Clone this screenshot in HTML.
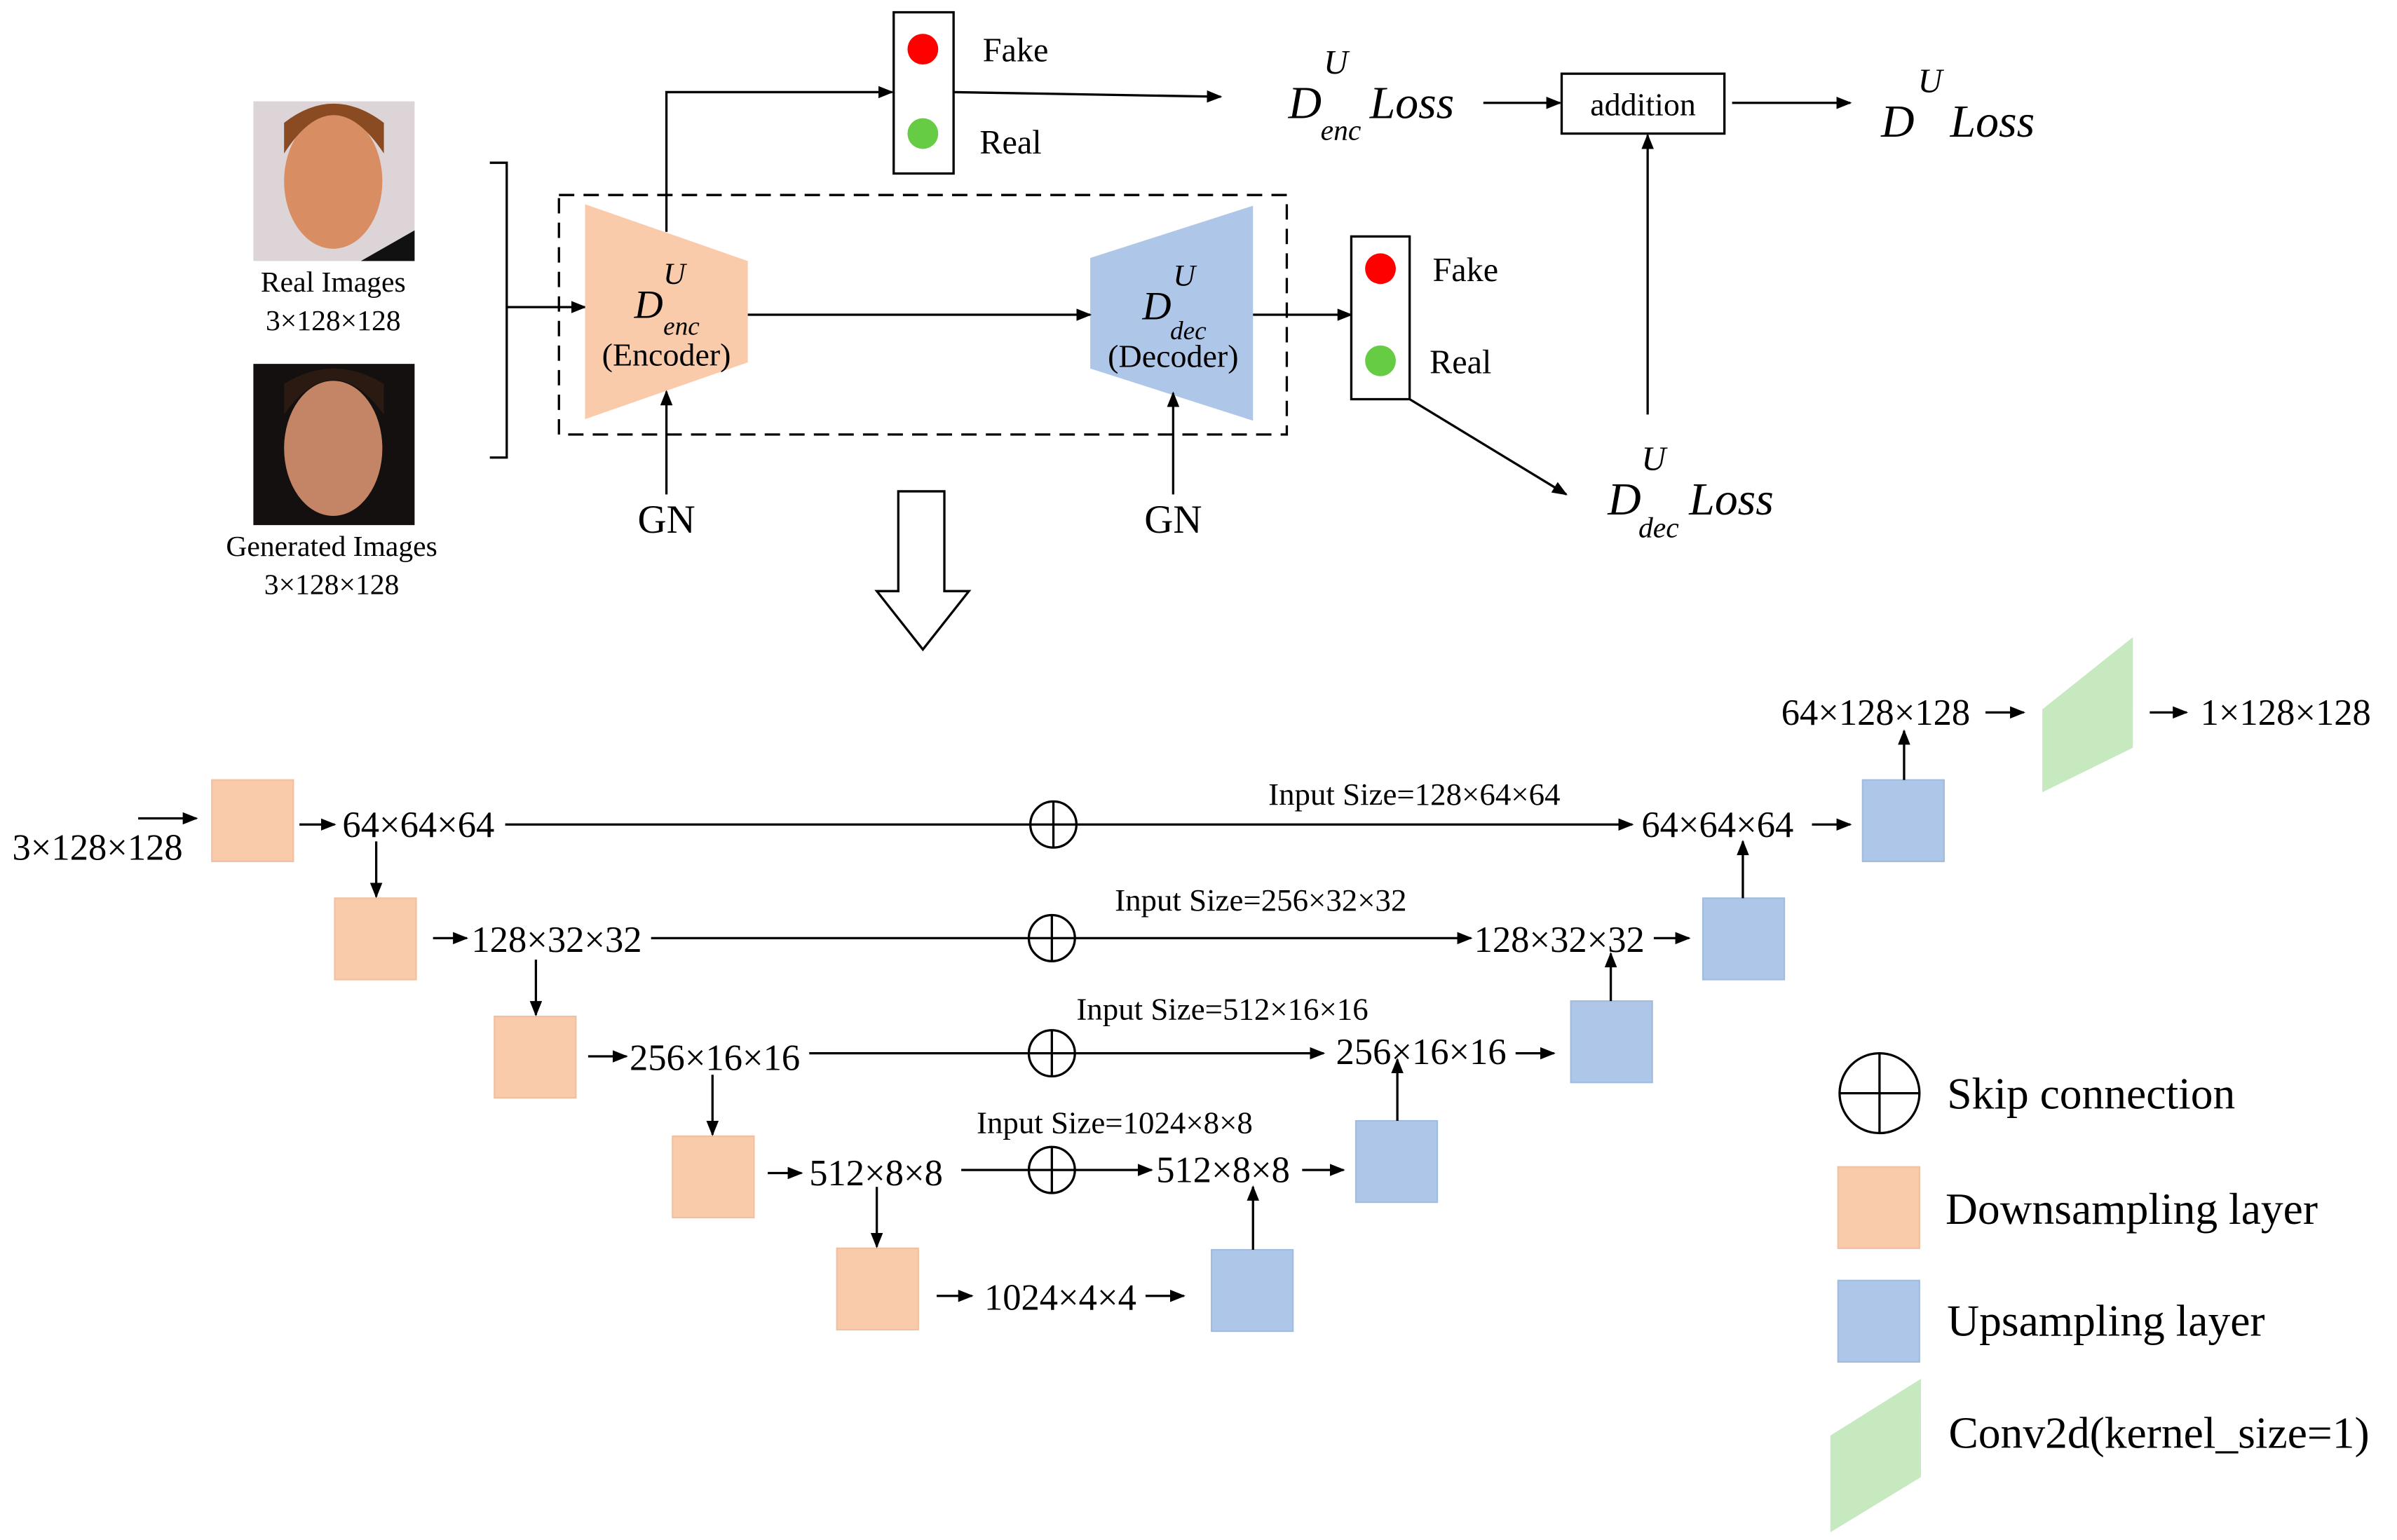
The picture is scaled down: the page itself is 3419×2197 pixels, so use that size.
<!DOCTYPE html>
<html><head><meta charset="utf-8"><style>
html,body{margin:0;padding:0;background:#fff;}
svg{display:block;}
text{font-family:"Liberation Serif",serif;fill:#000;}
.i{font-style:italic;}
</style></head><body>
<svg width="3419" height="2197" viewBox="0 0 1561 1003" preserveAspectRatio="none" xmlns="http://www.w3.org/2000/svg">
<defs>
<marker id="a" markerWidth="10" markerHeight="8" refX="9" refY="4" orient="auto" markerUnits="userSpaceOnUse"><path d="M0,0 L10,4 L0,8 z" fill="#000"/></marker>
</defs>
<rect x="165" y="66" width="105" height="104" fill="#dcd4d6"/>
<ellipse cx="217" cy="118" rx="32" ry="44" fill="#d98d62"/>
<path d="M185,100 Q217,50 250,100 L250,80 Q217,55 185,80z" fill="#8a4a22"/>
<path d="M235,170 L270,150 L270,170z" fill="#111"/>
<rect x="165" y="237" width="105" height="105" fill="#141010"/>
<ellipse cx="217" cy="292" rx="32" ry="44" fill="#c48466"/>
<path d="M185,270 Q217,225 250,270 L250,250 Q217,230 185,250z" fill="#2a1a12"/>
<text x="217" y="190" font-size="19" text-anchor="middle">Real Images</text>
<text x="217" y="215" font-size="19" text-anchor="middle">3×128×128</text>
<text x="216" y="362" font-size="19" text-anchor="middle">Generated Images</text>
<text x="216" y="387" font-size="19" text-anchor="middle">3×128×128</text>
<g stroke="#000" stroke-width="1.5" fill="none">
<path d="M319,106 H330 V298 H319"/>
<line x1="330" y1="200" x2="381" y2="200" marker-end="url(#a)"/>
<rect x="364" y="127" width="474" height="156" stroke-dasharray="10,6"/>
</g>
<polygon points="381,133 487,170 487,236 381,273" fill="#facbaa"/>
<polygon points="710,168 816,134 816,274 710,240" fill="#aec6e8"/>
<g stroke="#000" stroke-width="1.5" fill="none">
<line x1="487" y1="205" x2="710" y2="205" marker-end="url(#a)"/>
<line x1="434" y1="322" x2="434" y2="255" marker-end="url(#a)"/>
<line x1="764" y1="322" x2="764" y2="256" marker-end="url(#a)"/>
<path d="M434,151 V60 H581" marker-end="url(#a)"/>
<rect x="582" y="8" width="39" height="105" fill="#fff"/>
<line x1="621" y1="60" x2="795" y2="63" marker-end="url(#a)"/>
<line x1="966" y1="67" x2="1016" y2="67" marker-end="url(#a)"/>
<rect x="1017" y="48" width="106" height="39" fill="#fff"/>
<line x1="1128" y1="67" x2="1205" y2="67" marker-end="url(#a)"/>
<line x1="816" y1="205" x2="880" y2="205" marker-end="url(#a)"/>
<rect x="880" y="154" width="38" height="106" fill="#fff"/>
<line x1="918" y1="260" x2="1020" y2="322" marker-end="url(#a)"/>
<line x1="1073" y1="270" x2="1073" y2="88" marker-end="url(#a)"/>
<path d="M585,320 H615 V385 H631 L601,423 L571,385 H585 Z" fill="#fff"/>
</g>
<circle cx="601" cy="32" r="10" fill="#f00"/>
<circle cx="601" cy="87" r="10" fill="#66cc44"/>
<circle cx="899" cy="175" r="10" fill="#f00"/>
<circle cx="899" cy="235" r="10" fill="#66cc44"/>
<text x="432" y="185" font-size="20" class="i">U</text>
<text x="413" y="207" font-size="26" class="i">D</text>
<text x="432" y="218" font-size="17" class="i">enc</text>
<text x="434" y="238" font-size="21" text-anchor="middle">(Encoder)</text>
<text x="764" y="186" font-size="20" class="i">U</text>
<text x="744" y="208" font-size="26" class="i">D</text>
<text x="762" y="221" font-size="17" class="i">dec</text>
<text x="764" y="239" font-size="21" text-anchor="middle">(Decoder)</text>
<text x="434" y="347" font-size="26" text-anchor="middle">GN</text>
<text x="764" y="347" font-size="26" text-anchor="middle">GN</text>
<text x="640" y="40" font-size="22">Fake</text>
<text x="638" y="100" font-size="22">Real</text>
<text x="933" y="183" font-size="22">Fake</text>
<text x="931" y="243" font-size="22">Real</text>
<text x="862" y="48" font-size="22" class="i">U</text>
<text x="839" y="77" font-size="30" class="i">D</text>
<text x="860" y="91" font-size="19" class="i">enc</text>
<text x="892" y="77" font-size="30" class="i">Loss</text>
<text x="1070" y="75" font-size="21" text-anchor="middle">addition</text>
<text x="1249" y="60" font-size="22" class="i">U</text>
<text x="1225" y="89" font-size="30" class="i">D</text>
<text x="1270" y="89" font-size="30" class="i">Loss</text>
<text x="1069" y="306" font-size="22" class="i">U</text>
<text x="1047" y="335" font-size="30" class="i">D</text>
<text x="1067" y="350" font-size="19" class="i">dec</text>
<text x="1100" y="335" font-size="30" class="i">Loss</text>

<g fill="#facbaa" stroke="#f0c0a0" stroke-width="1">
<rect x="138" y="508" width="53" height="53"/>
<rect x="218" y="585" width="53" height="53"/>
<rect x="322" y="662" width="53" height="53"/>
<rect x="438" y="740" width="53" height="53"/>
<rect x="545" y="813" width="53" height="53"/>
<rect x="1197" y="760" width="53" height="53"/>
</g>
<g fill="#aec6e8" stroke="#a0bce0" stroke-width="1">
<rect x="1213" y="508" width="53" height="53"/>
<rect x="1109" y="585" width="53" height="53"/>
<rect x="1023" y="652" width="53" height="53"/>
<rect x="883" y="730" width="53" height="53"/>
<rect x="789" y="814" width="53" height="53"/>
<rect x="1197" y="834" width="53" height="53"/>
</g>
<polygon points="1330,462 1389,415 1389,487 1330,516" fill="#c6e9c0"/>
<polygon points="1192,935 1251,898 1251,962 1192,998" fill="#c6e9c0"/>
<g stroke="#000" stroke-width="1.5" fill="none">
<line x1="90" y1="533" x2="128" y2="533" marker-end="url(#a)"/>
<line x1="195" y1="537" x2="218" y2="537" marker-end="url(#a)"/>
<line x1="329" y1="537" x2="1063" y2="537" marker-end="url(#a)"/>
<line x1="1180" y1="537" x2="1205" y2="537" marker-end="url(#a)"/>
<line x1="245" y1="548" x2="245" y2="584" marker-end="url(#a)"/>
<line x1="282" y1="611" x2="304" y2="611" marker-end="url(#a)"/>
<line x1="424" y1="611" x2="958" y2="611" marker-end="url(#a)"/>
<line x1="1077" y1="611" x2="1100" y2="611" marker-end="url(#a)"/>
<line x1="349" y1="625" x2="349" y2="661" marker-end="url(#a)"/>
<line x1="383" y1="688" x2="408" y2="688" marker-end="url(#a)"/>
<line x1="527" y1="686" x2="862" y2="686" marker-end="url(#a)"/>
<line x1="987" y1="686" x2="1012" y2="686" marker-end="url(#a)"/>
<line x1="464" y1="700" x2="464" y2="739" marker-end="url(#a)"/>
<line x1="500" y1="764" x2="522" y2="764" marker-end="url(#a)"/>
<line x1="626" y1="762" x2="750" y2="762" marker-end="url(#a)"/>
<line x1="848" y1="762" x2="875" y2="762" marker-end="url(#a)"/>
<line x1="571" y1="773" x2="571" y2="812" marker-end="url(#a)"/>
<line x1="610" y1="844" x2="633" y2="844" marker-end="url(#a)"/>
<line x1="746" y1="844" x2="771" y2="844" marker-end="url(#a)"/>
<line x1="816" y1="814" x2="816" y2="773" marker-end="url(#a)"/>
<line x1="910" y1="730" x2="910" y2="690" marker-end="url(#a)"/>
<line x1="1049" y1="652" x2="1049" y2="621" marker-end="url(#a)"/>
<line x1="1135" y1="585" x2="1135" y2="548" marker-end="url(#a)"/>
<line x1="1240" y1="508" x2="1240" y2="476" marker-end="url(#a)"/>
<line x1="1293" y1="464" x2="1318" y2="464" marker-end="url(#a)"/>
<line x1="1400" y1="464" x2="1424" y2="464" marker-end="url(#a)"/>
<g fill="#fff">
<circle cx="686" cy="537" r="15"/><circle cx="685" cy="611" r="15"/><circle cx="685" cy="686" r="15"/><circle cx="685" cy="762" r="15"/><circle cx="1224" cy="712" r="26"/>
</g>
<path d="M671,537 H701 M686,522 V552 M670,611 H700 M685,596 V626 M670,686 H700 M685,671 V701 M670,762 H700 M685,747 V777 M1198,712 H1250 M1224,686 V738"/>
</g>
<g font-size="24">
<text x="8" y="560">3×128×128</text>
<text x="223" y="545">64×64×64</text>
<text x="1069" y="545">64×64×64</text>
<text x="307" y="620">128×32×32</text>
<text x="960" y="620">128×32×32</text>
<text x="410" y="697">256×16×16</text>
<text x="870" y="693">256×16×16</text>
<text x="527" y="772">512×8×8</text>
<text x="753" y="770">512×8×8</text>
<text x="641" y="853">1024×4×4</text>
<text x="1160" y="472">64×128×128</text>
<text x="1433" y="472">1×128×128</text>
</g>
<g font-size="20.5">
<text x="826" y="524">Input Size=128×64×64</text>
<text x="726" y="593">Input Size=256×32×32</text>
<text x="701" y="664">Input Size=512×16×16</text>
<text x="636" y="738">Input Size=1024×8×8</text>
</g>
<g font-size="29">
<text x="1268" y="722">Skip connection</text>
<text x="1267" y="797">Downsampling layer</text>
<text x="1268" y="870">Upsampling layer</text>
<text x="1269" y="943">Conv2d(kernel_size=1)</text>
</g>
</svg>
</body></html>
